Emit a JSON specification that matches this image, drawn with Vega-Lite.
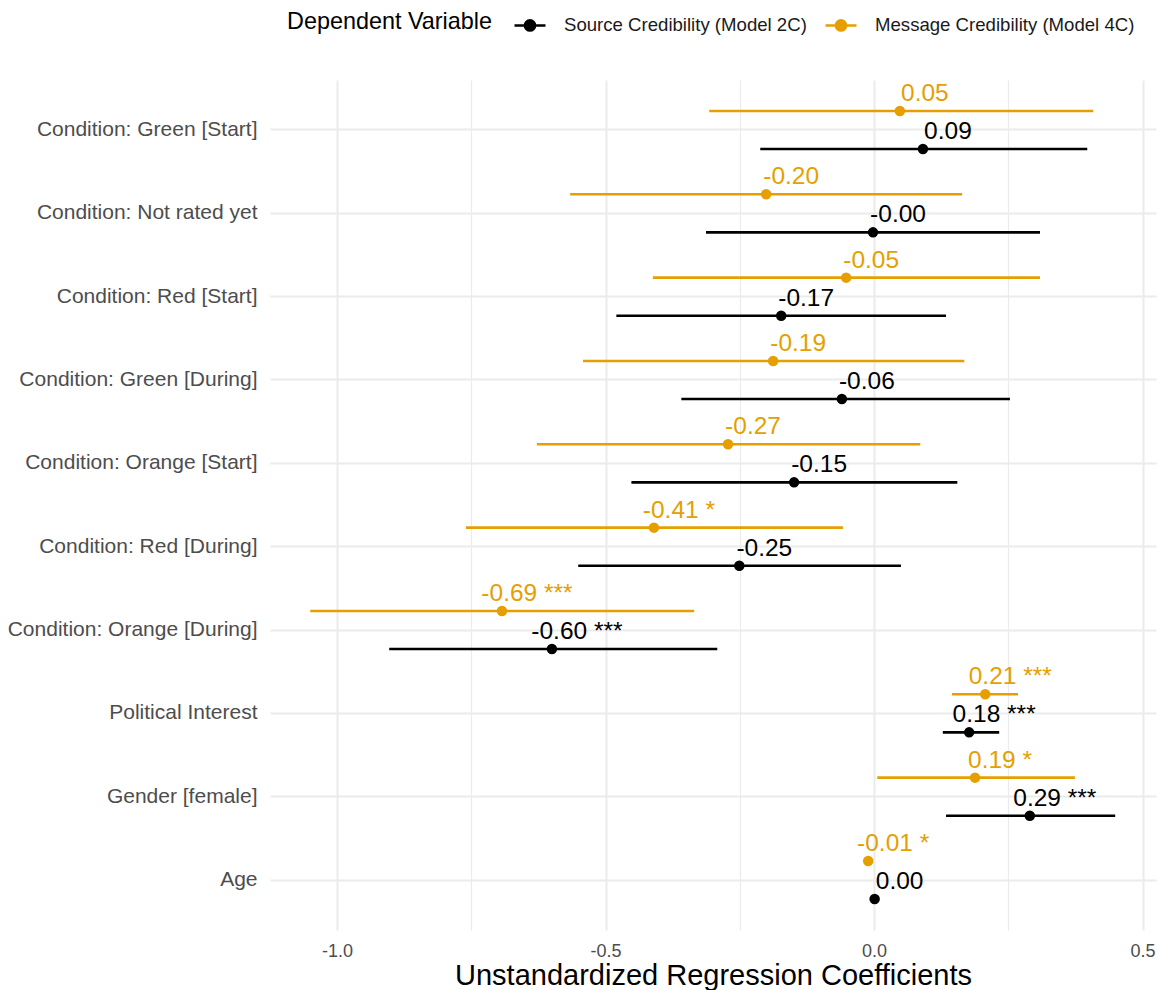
{
  "$schema": "https://vega.github.io/schema/vega-lite/v6.json",
  "width": 886,
  "height": 850,
  "autosize": {"type": "none"},
  "padding": {"left": 270, "top": 80, "right": 6, "bottom": 60},
  "background": "white",
  "config": {
    "view": {"stroke": null},
    "font": "Liberation Sans",
    "axis": {"labelFont": "Liberation Sans", "titleFont": "Liberation Sans"},
    "legend": {"labelFont": "Liberation Sans", "titleFont": "Liberation Sans"}
  },
  "data": {
    "values": [
      {"term": "Condition: Green [Start]", "model": "Message Credibility (Model 4C)", "est": 0.048, "lo": -0.307, "hi": 0.408, "label": "0.05"},
      {"term": "Condition: Green [Start]", "model": "Source Credibility (Model 2C)", "est": 0.091, "lo": -0.212, "hi": 0.397, "label": "0.09"},
      {"term": "Condition: Not rated yet", "model": "Message Credibility (Model 4C)", "est": -0.201, "lo": -0.566, "hi": 0.164, "label": "-0.20"},
      {"term": "Condition: Not rated yet", "model": "Source Credibility (Model 2C)", "est": -0.002, "lo": -0.313, "hi": 0.309, "label": "-0.00"},
      {"term": "Condition: Red [Start]", "model": "Message Credibility (Model 4C)", "est": -0.052, "lo": -0.412, "hi": 0.309, "label": "-0.05"},
      {"term": "Condition: Red [Start]", "model": "Source Credibility (Model 2C)", "est": -0.173, "lo": -0.480, "hi": 0.134, "label": "-0.17"},
      {"term": "Condition: Green [During]", "model": "Message Credibility (Model 4C)", "est": -0.188, "lo": -0.542, "hi": 0.168, "label": "-0.19"},
      {"term": "Condition: Green [During]", "model": "Source Credibility (Model 2C)", "est": -0.060, "lo": -0.359, "hi": 0.253, "label": "-0.06"},
      {"term": "Condition: Orange [Start]", "model": "Message Credibility (Model 4C)", "est": -0.272, "lo": -0.628, "hi": 0.086, "label": "-0.27"},
      {"term": "Condition: Orange [Start]", "model": "Source Credibility (Model 2C)", "est": -0.149, "lo": -0.452, "hi": 0.155, "label": "-0.15"},
      {"term": "Condition: Red [During]", "model": "Message Credibility (Model 4C)", "est": -0.410, "lo": -0.760, "hi": -0.058, "label": "-0.41 *"},
      {"term": "Condition: Red [During]", "model": "Source Credibility (Model 2C)", "est": -0.251, "lo": -0.551, "hi": 0.050, "label": "-0.25"},
      {"term": "Condition: Orange [During]", "model": "Message Credibility (Model 4C)", "est": -0.693, "lo": -1.050, "hi": -0.335, "label": "-0.69 ***"},
      {"term": "Condition: Orange [During]", "model": "Source Credibility (Model 2C)", "est": -0.600, "lo": -0.903, "hi": -0.292, "label": "-0.60 ***"},
      {"term": "Political Interest", "model": "Message Credibility (Model 4C)", "est": 0.207, "lo": 0.145, "hi": 0.268, "label": "0.21 ***"},
      {"term": "Political Interest", "model": "Source Credibility (Model 2C)", "est": 0.177, "lo": 0.128, "hi": 0.233, "label": "0.18 ***"},
      {"term": "Gender [female]", "model": "Message Credibility (Model 4C)", "est": 0.188, "lo": 0.006, "hi": 0.374, "label": "0.19 *"},
      {"term": "Gender [female]", "model": "Source Credibility (Model 2C)", "est": 0.290, "lo": 0.134, "hi": 0.449, "label": "0.29 ***"},
      {"term": "Age", "model": "Message Credibility (Model 4C)", "est": -0.011, "lo": -0.016, "hi": -0.006, "label": "-0.01 *"},
      {"term": "Age", "model": "Source Credibility (Model 2C)", "est": 0.001, "lo": -0.002, "hi": 0.004, "label": "0.00"}
    ]
  },
  "encoding": {
    "y": {
      "field": "term",
      "type": "nominal",
      "sort": ["Condition: Green [Start]", "Condition: Not rated yet", "Condition: Red [Start]", "Condition: Green [During]", "Condition: Orange [Start]", "Condition: Red [During]", "Condition: Orange [During]", "Political Interest", "Gender [female]", "Age"],
      "scale": {"paddingInner": 0, "paddingOuter": 0.1},
      "axis": {
        "title": null,
        "domain": false,
        "ticks": false,
        "bandPosition": 0.5,
        "grid": true,
        "gridColor": "#ebebeb",
        "gridWidth": 2,
        "labelColor": "#4d4d4d",
        "labelFontSize": 21,
        "labelPadding": 13,
        "labelLimit": 400
      }
    },
    "yOffset": {
      "field": "model",
      "type": "nominal",
      "sort": ["Message Credibility (Model 4C)", "Source Credibility (Model 2C)"],
      "scale": {"type": "point", "padding": 0.596}
    }
  },
  "layer": [
    {
      "mark": {"type": "rule", "strokeWidth": 2.6},
      "encoding": {
        "x": {
          "field": "lo",
          "type": "quantitative",
          "scale": {"domain": [-1.125, 0.525], "nice": false, "zero": false},
          "axis": {
            "values": [-1, -0.75, -0.5, -0.25, 0, 0.25, 0.5],
            "labelExpr": "datum.value == -1 ? '-1.0' : datum.value == -0.5 ? '-0.5' : datum.value == 0 ? '0.0' : datum.value == 0.5 ? '0.5' : ''",
            "domain": false,
            "ticks": false,
            "grid": true,
            "gridColor": "#ebebeb",
            "gridWidth": {"condition": {"test": "datum.value == -1 || datum.value == -0.5 || datum.value == 0 || datum.value == 0.5", "value": 2}, "value": 1.2},
            "labelColor": "#4d4d4d",
            "labelFontSize": 18,
            "labelPadding": 12,
            "title": "Unstandardized Regression Coefficients",
            "titleFontSize": 29,
            "titleFontWeight": "normal",
            "titleColor": "#000000",
            "titlePadding": 1
          }
        },
        "x2": {"field": "hi"},
        "color": {
          "field": "model",
          "type": "nominal",
          "scale": {"domain": ["Source Credibility (Model 2C)", "Message Credibility (Model 4C)"], "range": ["#000000", "#E69F00"]},
          "legend": {
            "title": "Dependent Variable",
            "orient": "none",
            "direction": "horizontal",
            "legendX": 17,
            "legendY": -72,
            "titleOrient": "left",
            "titleAnchor": "middle",
            "titleBaseline": "middle",
            "titleFontSize": 23.4,
            "titleFontWeight": "normal",
            "titleColor": "#000000",
            "titleLimit": 500,
            "titlePadding": 20,
            "labelFontSize": 18.6,
            "labelColor": "#1a1a1a",
            "labelLimit": 500,
            "labelOffset": 17,
            "columnPadding": 13,
            "symbolType": "M-1,0H1M-0.33,0A0.33,0.33 0 1,0 0.33,0A0.33,0.33 0 1,0 -0.33,0Z",
            "symbolSize": 961,
            "symbolStrokeWidth": 2.5,
            "symbolOpacity": 1,
            "encode": {"symbols": {"update": {"stroke": {"scale": "color", "field": "value"}, "fill": {"scale": "color", "field": "value"}, "strokeWidth": {"value": 2.5}, "opacity": {"value": 1}}}}
          }
        }
      }
    },
    {
      "mark": {"type": "point", "filled": true, "size": 110, "opacity": 1},
      "encoding": {
        "x": {"field": "est", "type": "quantitative"},
        "color": {"field": "model", "type": "nominal"}
      }
    },
    {
      "mark": {"type": "text", "align": "center", "baseline": "alphabetic", "dx": 25, "dy": -10, "fontSize": 24.5},
      "encoding": {
        "x": {"field": "est", "type": "quantitative"},
        "text": {"field": "label"},
        "color": {"field": "model", "type": "nominal"}
      }
    },
    {
      "mark": {"type": "rule", "color": "#000000", "strokeWidth": 2.6, "strokeDash": [8, 6]},
      "encoding": {"x": {"datum": 0}}
    }
  ]
}
